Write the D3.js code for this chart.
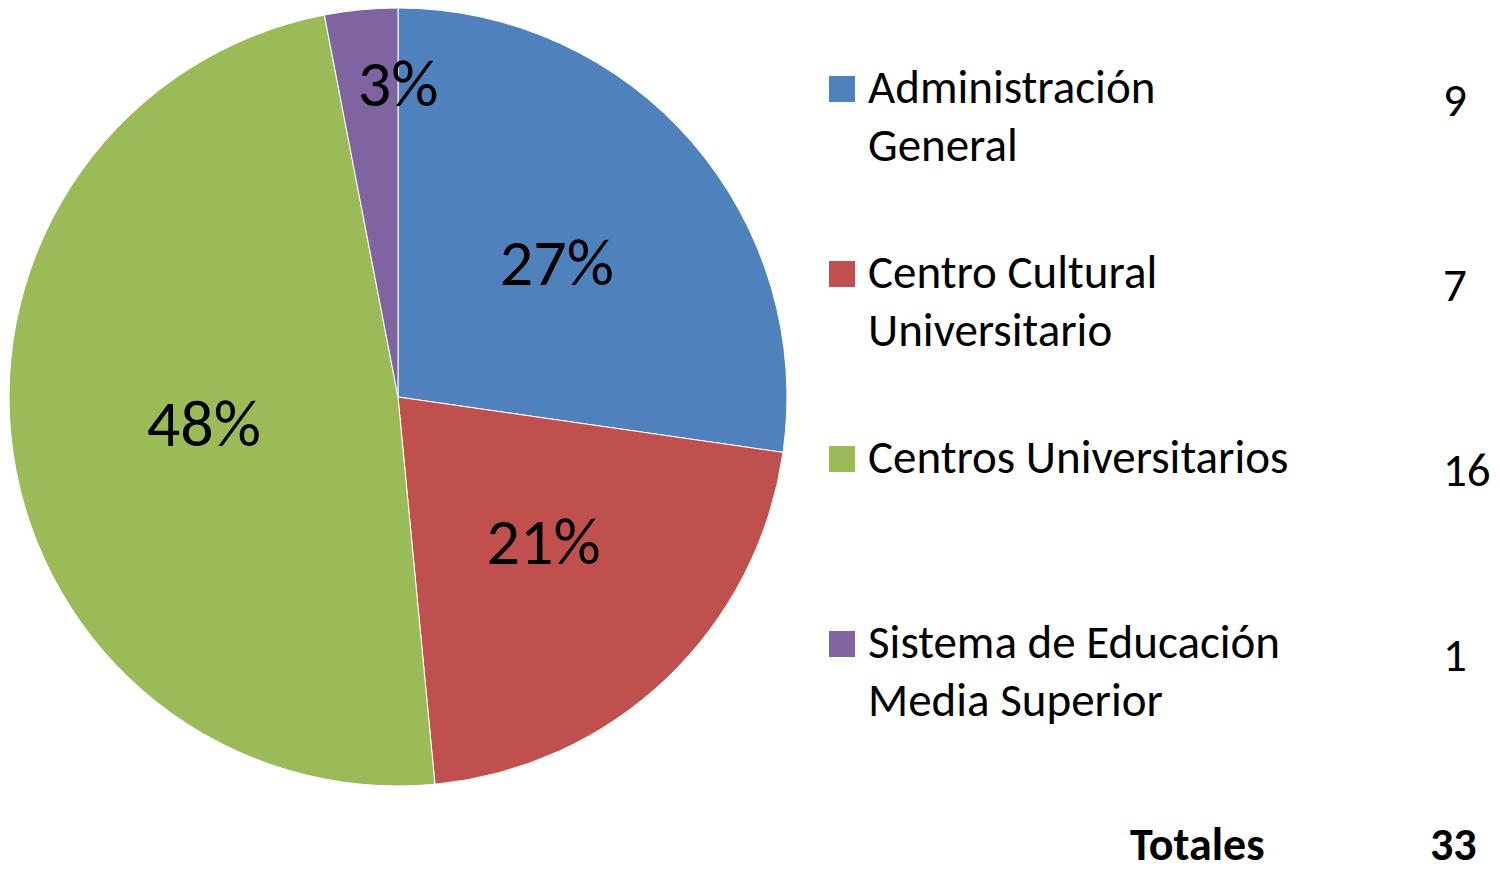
<!DOCTYPE html>
<html><head><meta charset="utf-8">
<script src="https://cdn.jsdelivr.net/npm/d3@7"></script>
<style>body{margin:0;background:#fff}svg{display:block}text{font-family:Carlito,Lato,"Open Sans",sans-serif}</style>
</head><body>
<svg id="c" width="1500" height="874"></svg>
<script>
const categories = [["Administración","General"],["Centro Cultural","Universitario"],["Centros Universitarios"],["Sistema de Educación","Media Superior"]];
const values = [9, 7, 16, 1];
const colors = ["#4F81BD", "#C0504D", "#9BBB59", "#8064A2"];
const totalLabel = "Totales";
const total = d3.sum(values);

const svg = d3.select("#c");
const cx = 398, cy = 397, r = 389;
const g = svg.append("g").attr("transform", `translate(${cx},${cy})`);
const pie = d3.pie().sort(null).value(d => d)(values);
const arc = d3.arc().innerRadius(0).outerRadius(r);
g.selectAll("path").data(pie).join("path")
  .attr("d", arc).attr("fill", (d,i) => colors[i])
  .attr("stroke", "#fff").attr("stroke-width", 1);
const fmt = d3.format(".0%");
g.selectAll("text.pct").data(pie).join("text").attr("class","pct")
  .attr("transform", d => {
    const frac = d.value / total;
    const small = frac < 0.05;
    const rr = small ? r * 0.80 : r * 0.52;
    const a = small ? d.startAngle + (d.endAngle - d.startAngle) * 0.9 : (d.startAngle + d.endAngle) / 2;
    return `translate(${Math.sin(a)*rr + 6},${-Math.cos(a)*rr - 3})`;
  })
  .attr("text-anchor","middle").attr("dy","0.35em")
  .attr("font-size", 66).attr("fill","#000")
  .text(d => fmt(d.value / total));

const leg = svg.append("g");
const rowY = d3.scaleLinear().domain([0, 3]).range([76, 631]);
categories.forEach((lines, i) => {
  const y0 = rowY(i);
  leg.append("rect").attr("x", 829).attr("y", y0).attr("width", 26).attr("height", 26).attr("fill", colors[i]);
  lines.forEach((t, j) => {
    leg.append("text").attr("x", 868).attr("y", y0 + 27 + j * 58).attr("font-size", 47).attr("fill", "#000").text(t);
  });
  leg.append("text").attr("x", 1443).attr("y", y0 + 40).attr("font-size", 47).attr("fill", "#000").text(values[i]);
});
svg.append("text").attr("x", 1130).attr("y", 860).attr("font-size", 46).attr("font-weight", "bold").text(totalLabel);
svg.append("text").attr("x", 1430).attr("y", 860).attr("font-size", 46).attr("font-weight", "bold").text(total);
</script>
</body></html>
